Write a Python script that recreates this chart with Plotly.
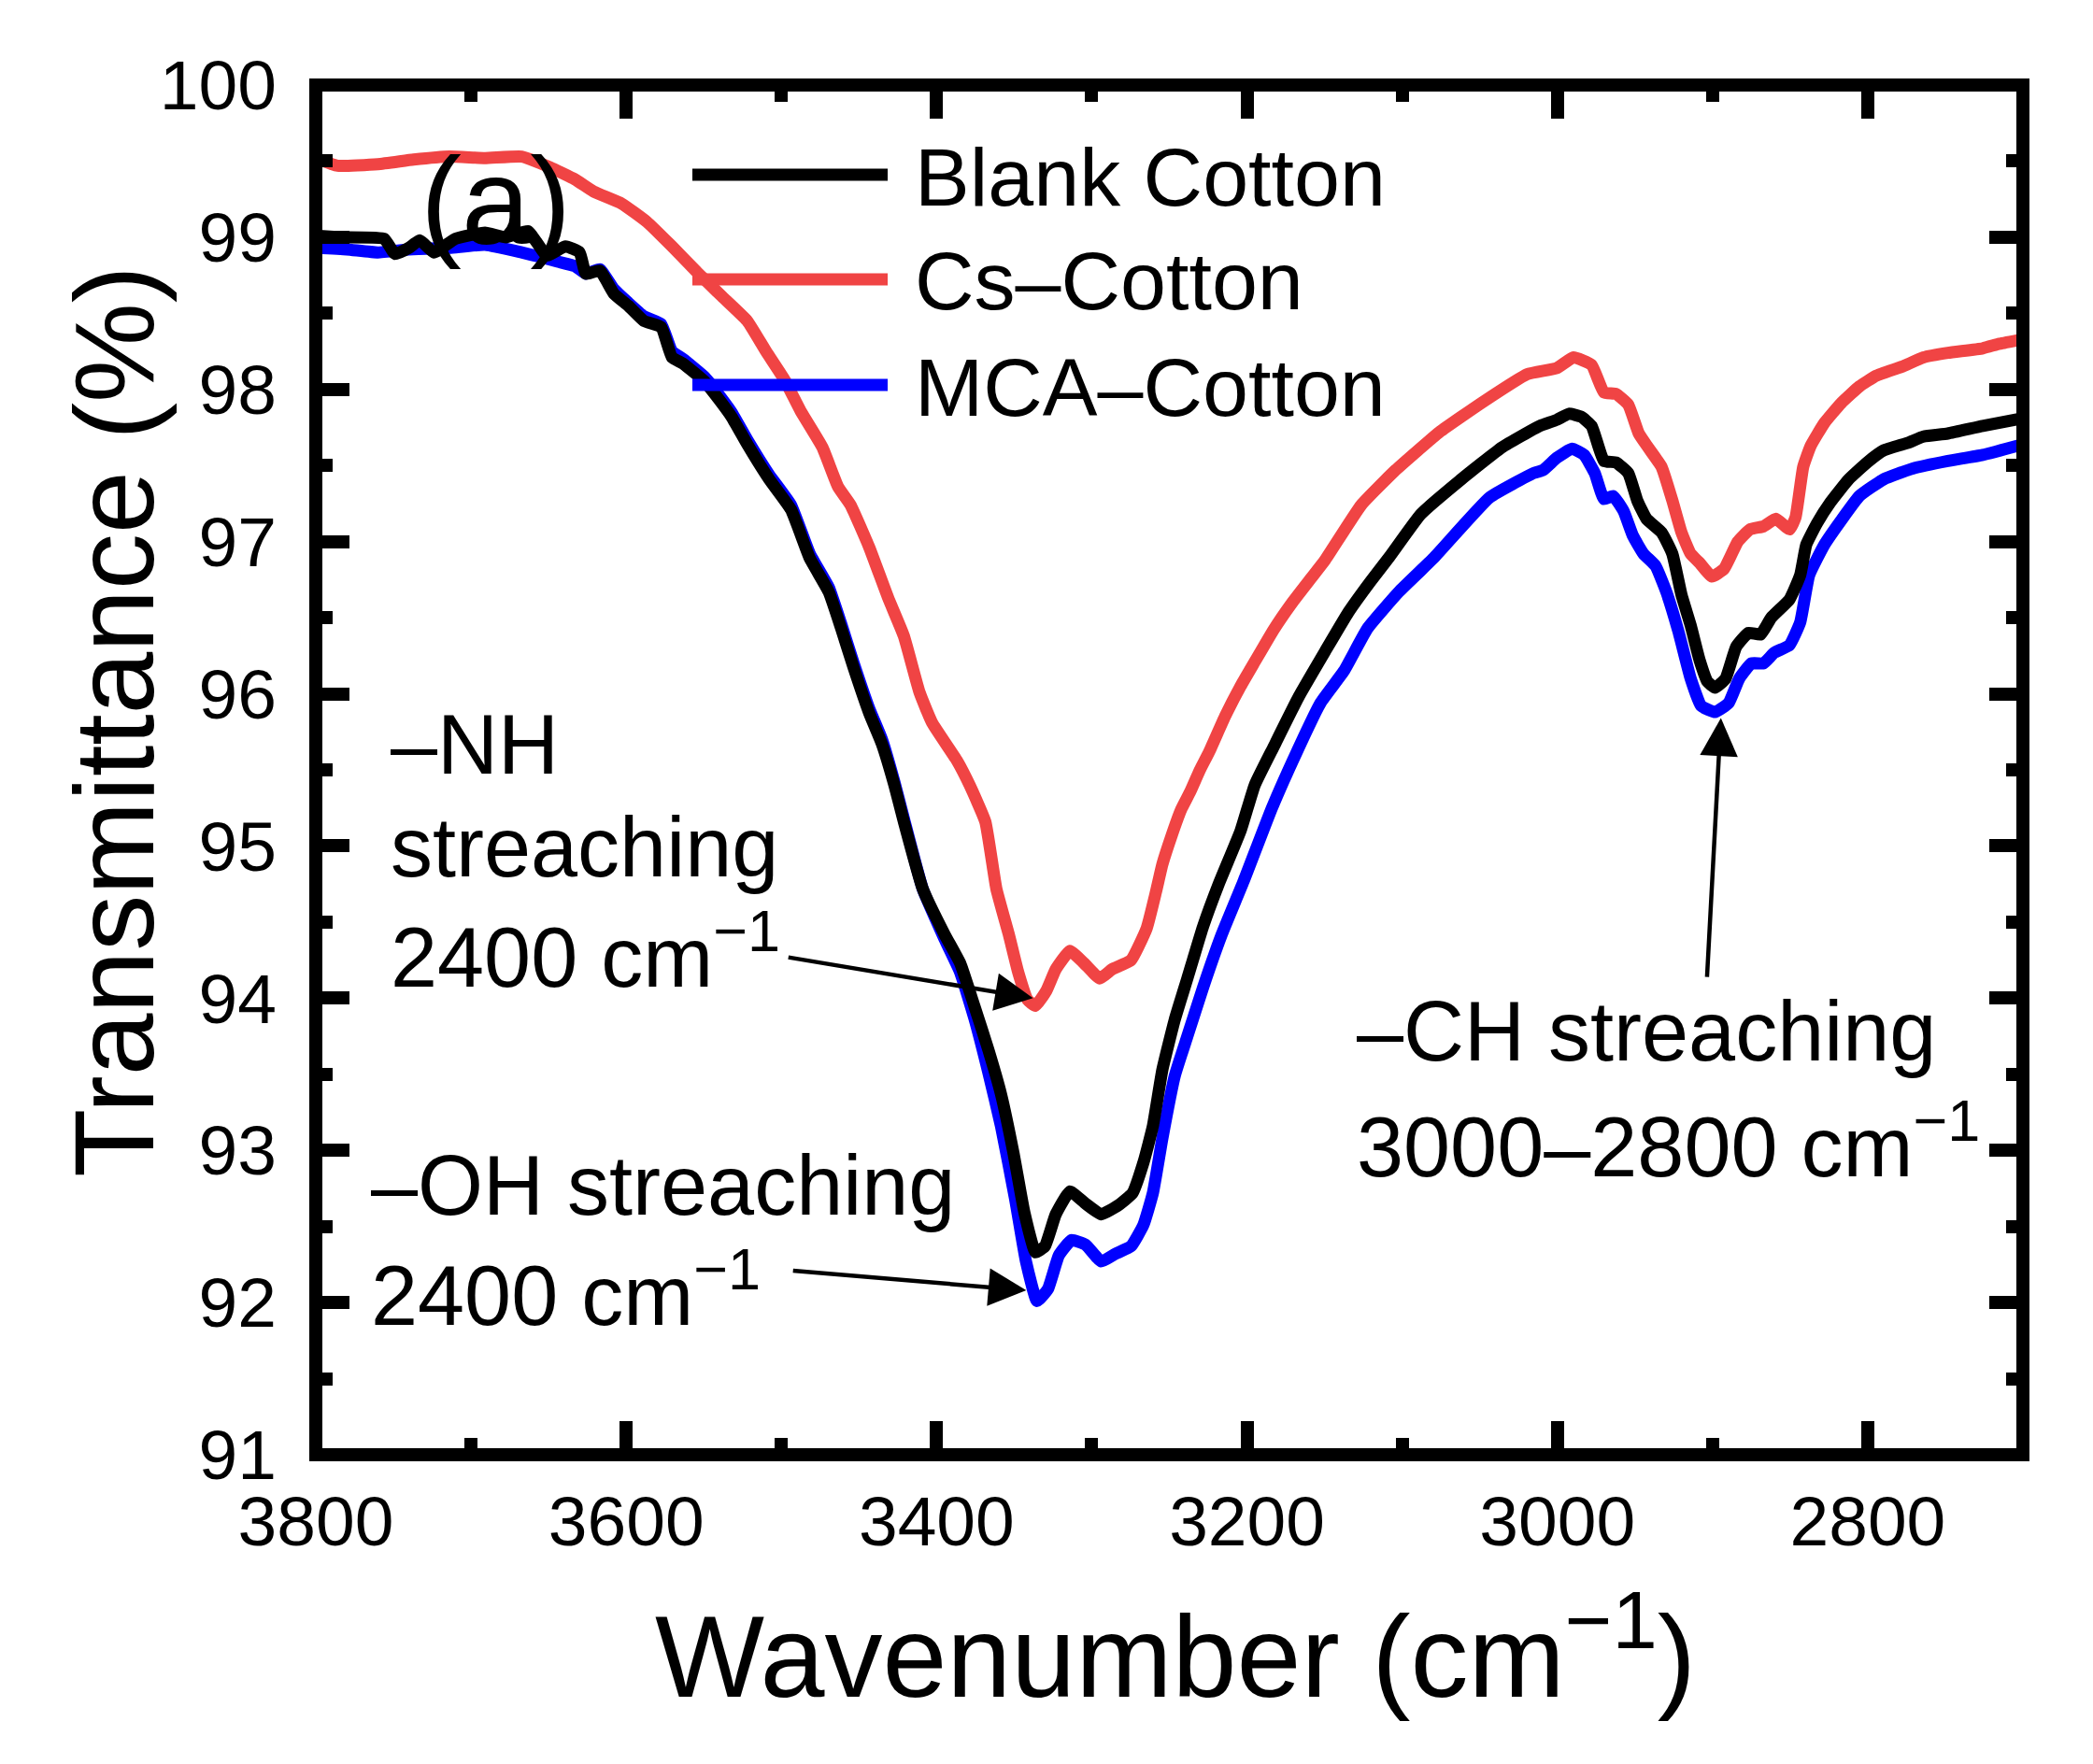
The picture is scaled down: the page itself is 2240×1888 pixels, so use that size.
import plotly.graph_objects as go

# Blank Cotton (black)
blank_wn = [3800, 3784, 3756, 3749, 3740, 3733, 3724, 3710, 3691, 3677.5, 3663.3, 3651.2, 3639.1, 3630,
            3626, 3617, 3608, 3598.7, 3588.6, 3577.5, 3570.5, 3563.4, 3549.3, 3542.2, 3532.1, 3522, 3507.9,
            3493.8, 3481.7, 3469.5, 3461.5, 3453.4, 3443.3, 3435.2, 3427.2, 3421.1, 3409, 3394.9, 3384.8,
            3375.7, 3366.6, 3358.5, 3350.4, 3343.4, 3336.3, 3330.2, 3323.2, 3314.1, 3304, 3293.9, 3282.8,
            3273.7, 3266.7, 3260.6, 3254.5, 3246.5, 3238.4, 3228.3, 3218.2, 3204.1, 3195, 3182.9, 3166.7,
            3149.6, 3134.4, 3120.3, 3108.2, 3088, 3061.8, 3035.5, 3011.3, 3000.4, 2992.6, 2984.7, 2977.9,
            2970, 2962.2, 2954.3, 2948.5, 2942.6, 2932.8, 2925.9, 2920, 2914.1, 2908.3, 2903.3, 2898.4,
            2891.6, 2884.7, 2876.9, 2869, 2862.2, 2850.4, 2843.5, 2839.6, 2832.7, 2823.9, 2812.2, 2800.4,
            2789.6, 2773.9, 2764.1, 2748.4, 2725.9, 2700]
blank_t = [99.01, 99.00, 98.99, 98.89, 98.93, 98.98, 98.90, 98.99, 99.03, 99.00, 99.04, 98.88, 98.94, 98.90,
           98.76, 98.78, 98.63, 98.55, 98.45, 98.41, 98.21, 98.17, 98.05, 97.96, 97.82, 97.64, 97.41,
           97.21, 96.89, 96.67, 96.43, 96.17, 95.87, 95.67, 95.40, 95.16, 94.72, 94.42, 94.23,
           93.95, 93.66, 93.37, 92.98, 92.59, 92.33, 92.37, 92.58, 92.73, 92.65, 92.58, 92.64,
           92.72, 92.92, 93.16, 93.53, 93.86, 94.13, 94.47, 94.75, 95.10, 95.40, 95.65, 95.98,
           96.28, 96.54, 96.74, 96.90, 97.18, 97.41, 97.62, 97.76, 97.80, 97.84, 97.82, 97.76,
           97.53, 97.52, 97.45, 97.27, 97.15, 97.06, 96.92, 96.65, 96.45, 96.22, 96.08, 96.04,
           96.10, 96.31, 96.40, 96.39, 96.50, 96.62, 96.78, 96.98, 97.12, 97.26, 97.41, 97.52,
           97.60, 97.65, 97.69, 97.71, 97.76, 97.81]

# Cs-Cotton (red)
cs_wn = [3800, 3786, 3760, 3737, 3714, 3691, 3667.4, 3649.2, 3633, 3621, 3602.8, 3586.6, 3570.5, 3554.3,
         3538.2, 3522, 3509.9, 3497.8, 3487.7, 3473.6, 3463.5, 3455.4, 3443.3, 3431.2, 3421.1, 3411,
         3402.9, 3386.8, 3378.7, 3368.6, 3361.5, 3353.5, 3347.4, 3341.4, 3336.3, 3329.2, 3323.2, 3314.1,
         3305, 3294.9, 3286.9, 3274.7, 3264.6, 3258.6, 3254.5, 3248.5, 3242.4, 3236.4, 3230.3, 3224.3,
         3214.2, 3204.1, 3195, 3182.9, 3170.8, 3158.7, 3149.6, 3126.4, 3104.2, 3075.9, 3047.6, 3019.4,
         3000.4, 2989.6, 2977.9, 2970, 2962.2, 2954.3, 2947.5, 2941.6, 2932.8, 2925.9, 2920, 2914.1,
         2908.3, 2900.4, 2892.6, 2883.7, 2875.9, 2867.1, 2859.2, 2850.4, 2846.5, 2841.6, 2836.7, 2827.9,
         2817.1, 2805.3, 2794.5, 2777.8, 2764.1, 2748.4, 2725.9, 2715.1, 2700]
cs_t = [99.52, 99.47, 99.48, 99.51, 99.53, 99.52, 99.53, 99.46, 99.38, 99.30, 99.22, 99.10, 98.94, 98.77,
        98.61, 98.45, 98.25, 98.06, 97.86, 97.62, 97.36, 97.24, 96.96, 96.63, 96.38, 96.01,
        95.81, 95.56, 95.40, 95.16, 94.72, 94.42, 94.17, 93.99, 93.95, 94.05, 94.19, 94.31,
        94.23, 94.13, 94.19, 94.25, 94.46, 94.70, 94.88, 95.07, 95.24, 95.36, 95.50, 95.62,
        95.85, 96.05, 96.21, 96.42, 96.60, 96.76, 96.88, 97.24, 97.47, 97.72, 97.92, 98.10,
        98.14, 98.21, 98.16, 97.98, 97.97, 97.90, 97.71, 97.62, 97.49, 97.27, 97.06, 96.92,
        96.86, 96.77, 96.82, 97.00, 97.08, 97.10, 97.15, 97.08, 97.16, 97.49, 97.63, 97.78,
        97.91, 98.02, 98.09, 98.15, 98.21, 98.24, 98.27, 98.30, 98.33]

# MCA-Cotton (blue)
mca_wn = [3800, 3780, 3760, 3740, 3714, 3691, 3667.4, 3655.3, 3644.2, 3633, 3626, 3617, 3608, 3598.7,
          3588.6, 3577.5, 3570.5, 3563.4, 3549.3, 3542.2, 3532.1, 3522, 3507.9, 3493.8, 3481.7, 3469.5,
          3461.5, 3453.4, 3443.3, 3435.2, 3427.2, 3421.1, 3409, 3394.9, 3384.8, 3375.7, 3366.6, 3358.5,
          3349.4, 3342.4, 3335.3, 3328.2, 3321.2, 3313.1, 3304, 3293.9, 3284.8, 3274.7, 3266.7, 3260.6,
          3254.5, 3246.5, 3238.4, 3228.3, 3216.2, 3202.1, 3183.9, 3167.8, 3152.6, 3137.5, 3122.3, 3102.1,
          3079.9, 3043.6, 3015.3, 3009.2, 3000.4, 2990.6, 2982.8, 2975.9, 2970, 2964.1, 2957.3, 2951.4,
          2944.5, 2936.7, 2929.8, 2922, 2914.1, 2907.3, 2898.4, 2889.6, 2882.8, 2874.9, 2867.1, 2860.2,
          2850.4, 2843.5, 2837.7, 2827.9, 2817.1, 2805.3, 2789.6, 2771, 2748.4, 2725.9, 2700]
mca_t = [98.93, 98.92, 98.90, 98.92, 98.93, 98.95, 98.90, 98.87, 98.84, 98.81, 98.76, 98.79, 98.66, 98.57,
         98.48, 98.43, 98.25, 98.20, 98.08, 97.99, 97.85, 97.67, 97.44, 97.24, 96.92, 96.70,
         96.46, 96.20, 95.90, 95.70, 95.42, 95.18, 94.72, 94.39, 94.17, 93.87, 93.51, 93.16,
         92.68, 92.27, 92.01, 92.09, 92.31, 92.41, 92.38, 92.27, 92.32, 92.37, 92.51, 92.72,
         93.08, 93.49, 93.75, 94.07, 94.42, 94.77, 95.25, 95.62, 95.94, 96.15, 96.43, 96.67,
         96.89, 97.29, 97.45, 97.47, 97.55, 97.61, 97.57, 97.45, 97.28, 97.30, 97.20, 97.04,
         96.92, 96.84, 96.67, 96.41, 96.10, 95.92, 95.88, 95.94, 96.10, 96.20, 96.20, 96.27,
         96.32, 96.47, 96.78, 96.98, 97.14, 97.30, 97.41, 97.48, 97.53, 97.57, 97.64]

series_names = ["Blank Cotton", "Cs\u2013Cotton", "MCA\u2013Cotton"]
series_colors = ["#000000", "#F04444", "#0000FF"]

x_ticks = [3800, 3600, 3400, 3200, 3000, 2800]
y_ticks = [91, 92, 93, 94, 95, 96, 97, 98, 99, 100]

FONT = "Liberation Sans, Arial, sans-serif"

# page offset from the default body margin of the html page
OFF = 8
W, H = 2240 - OFF, 1888 - OFF
# plot area in page pixels (centre of the frame lines)
L, R, T, B = 338, 2165, 91, 1557


def px(x):
    return (x - L) / (R - L)


def py(y):
    return (B - y) / (B - T)


fig = go.Figure()

# red first, blue, then black on top
line_kw = dict(width=13, shape="spline", smoothing=0.4)
fig.add_trace(go.Scatter(x=cs_wn, y=cs_t, name=series_names[1], mode="lines",
                         line=dict(color=series_colors[1], **line_kw)))
fig.add_trace(go.Scatter(x=mca_wn, y=mca_t, name=series_names[2], mode="lines",
                         line=dict(color=series_colors[2], **line_kw)))
fig.add_trace(go.Scatter(x=blank_wn, y=blank_t, name=series_names[0], mode="lines",
                         line=dict(color=series_colors[0], **line_kw)))

# frame drawn centred on the plot edges
fig.add_shape(type="rect", xref="paper", yref="paper", x0=0, x1=1, y0=0, y1=1,
              line=dict(color="black", width=14), layer="above")

# hand-made legend (long line samples like the original)
legend_rows = [187, 299, 412]
for name, color, yrow in zip(series_names, series_colors, legend_rows):
    fig.add_shape(type="line", xref="paper", yref="paper",
                  x0=px(741), x1=px(950), y0=py(yrow), y1=py(yrow),
                  line=dict(color=color, width=13))
    fig.add_annotation(text=name, xref="paper", yref="paper", x=px(977), y=py(yrow + 2),
                       xanchor="left", yanchor="middle", showarrow=False,
                       font=dict(size=88, color="black", family=FONT))

# text labels
labels = [
    ("(a)", 530, 215, "center", 132),
    ("\u2013NH", 416, 797, "left", 90),
    ("streaching", 416, 907, "left", 90),
    ("2400 cm<sup>\u22121</sup>", 416, 1018, "left", 90),
    ("\u2013OH streaching", 395, 1269, "left", 90),
    ("2400 cm<sup>\u22121</sup>", 395, 1380, "left", 90),
    ("\u2013CH streaching", 1450, 1104, "left", 90),
    ("3000\u20132800 cm<sup>\u22121</sup>", 1450, 1221, "left", 90),
]
for txt, x, y, anchor, size in labels:
    fig.add_annotation(text=txt, xref="paper", yref="paper", x=px(x), y=py(y),
                       xanchor=anchor, yanchor="middle", showarrow=False,
                       font=dict(size=size, color="black", family=FONT))

# arrows (head, tail) in data units
arrows = [
    ((3337.9, 94.00), (3496.4, 94.27)),
    ((3342.2, 92.08), (3493.4, 92.21)),
    ((2894.6, 95.84), (2903.6, 94.13)),
]
for (hx, hy), (tx, ty) in arrows:
    fig.add_annotation(x=hx, y=hy, ax=tx, ay=ty, xref="x", yref="y", axref="x", ayref="y",
                       text="", showarrow=True, arrowhead=2, arrowsize=1.8, arrowwidth=4.5,
                       arrowcolor="black")

# axis titles
fig.add_annotation(text="Transmittance (%)", xref="paper", yref="paper", x=px(122), y=py(772),
                   textangle=-90, showarrow=False, xanchor="center", yanchor="middle",
                   font=dict(size=120, color="black", family=FONT))
fig.add_annotation(text="Wavenumber (cm<sup>\u22121</sup>)", xref="paper", yref="paper",
                   x=px(1258), y=py(1764), showarrow=False, xanchor="center", yanchor="middle",
                   font=dict(size=124, color="black", family=FONT))

fig.update_layout(
    width=W,
    height=H,
    margin=dict(l=L - OFF, r=W + OFF - R, t=T - OFF, b=H + OFF - B),
    plot_bgcolor="white",
    paper_bgcolor="white",
    showlegend=False,
    font=dict(family=FONT, color="black"),
)

axis_kw = dict(
    ticks="inside", ticklen=36, tickwidth=14, tickcolor="black",
    showline=True, linewidth=14, linecolor="rgba(0,0,0,0)", mirror="allticks",
    showgrid=False, zeroline=False,
    tickfont=dict(size=75, color="black", family=FONT),
)
fig.update_xaxes(
    range=[3800, 2700],
    tickvals=x_ticks,
    minor=dict(ticks="inside", ticklen=18, tickwidth=14, tickcolor="black", dtick=100, showgrid=False),
    ticklabelstandoff=-7,
    **axis_kw,
)
fig.update_yaxes(
    range=[91, 100],
    tickvals=y_ticks,
    minor=dict(ticks="inside", ticklen=18, tickwidth=14, tickcolor="black", dtick=0.5, showgrid=False),
    ticklabelstandoff=13,
    **axis_kw,
)

fig.write_html("out.html")
